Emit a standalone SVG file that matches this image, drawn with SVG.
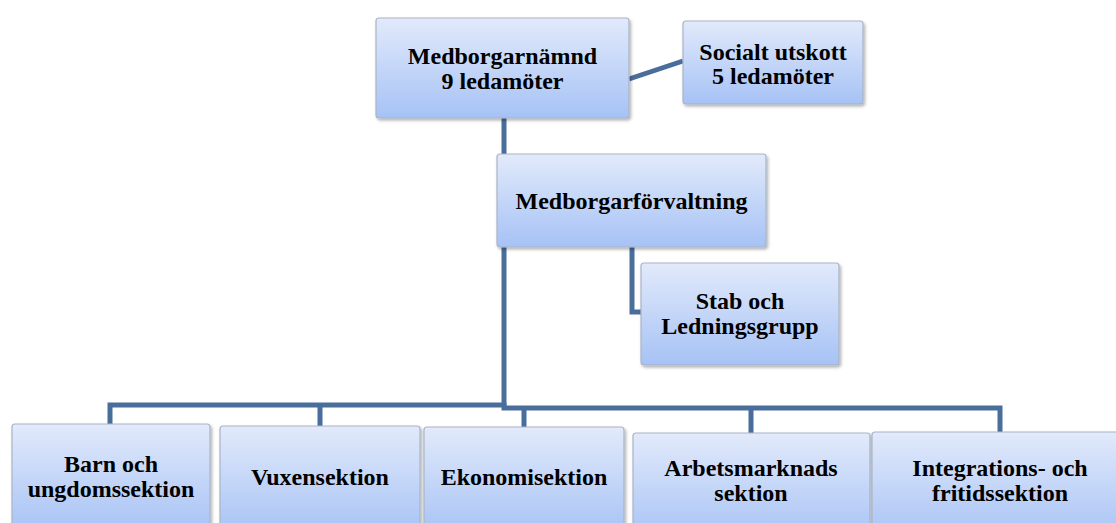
<svg xmlns="http://www.w3.org/2000/svg" width="1116" height="523" viewBox="0 0 1116 523">
<defs>
<linearGradient id="g" x1="0" y1="0" x2="0" y2="1">
<stop offset="0" stop-color="#e2eafb"/>
<stop offset="1" stop-color="#a6c2f5"/>
</linearGradient>
<filter id="sh" x="-10%" y="-10%" width="120%" height="130%">
<feDropShadow dx="1.5" dy="2" stdDeviation="1.5" flood-color="#000" flood-opacity="0.3"/>
</filter>
</defs>
<style>
.box{fill:url(#g);stroke:#a9b4c6;stroke-width:1.2;filter:url(#sh)}
text{font-family:'Liberation Serif','DejaVu Serif',serif;font-weight:bold;font-size:24px;fill:#000;text-anchor:middle}
.c{fill:none;stroke:#4a6e9c;stroke-width:5}
</style>
<rect width="1116" height="523" fill="#fff"/>
<g id="connectors">
<line class="c" x1="629" y1="79" x2="683" y2="61"/>
<polyline class="c" points="504,118 504,406"/>
<path class="c" d="M506,405 H110 V424 M320,405 V426"/>
<path class="c" d="M504,403 V408 H1000 V432 M524,408 V427 M751,408 V433"/>
<path class="c" d="M632,247 V312 H642"/>
</g>
<g id="n-medborgarnamnd">
<rect class="box" x="376" y="18" width="253" height="100" rx="3"/>
<text x="502.5" y="64">Medborgarnämnd</text>
<text x="502.5" y="89">9 ledamöter</text>
</g>
<g id="n-socialt">
<rect class="box" x="683" y="21" width="180" height="83" rx="3"/>
<text x="773" y="60">Socialt utskott</text>
<text x="773" y="84">5 ledamöter</text>
</g>
<g id="n-forvaltning">
<rect class="box" x="497" y="154" width="269" height="93" rx="3"/>
<text x="631.5" y="209">Medborgarförvaltning</text>
</g>
<g id="n-stab">
<rect class="box" x="641" y="263" width="198" height="102" rx="3"/>
<text x="740" y="309">Stab och</text>
<text x="740" y="334">Ledningsgrupp</text>
</g>
<g id="n-barn">
<rect class="box" x="12" y="424" width="198" height="110" rx="3"/>
<text x="111" y="472">Barn och</text>
<text x="111" y="497">ungdomssektion</text>
</g>
<g id="n-vuxen">
<rect class="box" x="220" y="426" width="200" height="110" rx="3"/>
<text x="320" y="485">Vuxensektion</text>
</g>
<g id="n-ekonomi">
<rect class="box" x="424" y="427" width="200" height="110" rx="3"/>
<text x="524" y="485">Ekonomisektion</text>
</g>
<g id="n-arbets">
<rect class="box" x="633" y="433" width="237" height="110" rx="3"/>
<text x="751" y="476">Arbetsmarknads</text>
<text x="751" y="501">sektion</text>
</g>
<g id="n-integration">
<rect class="box" x="872" y="432" width="256" height="110" rx="3"/>
<text x="1000" y="476">Integrations- och</text>
<text x="1000" y="501">fritidssektion</text>
</g>
</svg>
